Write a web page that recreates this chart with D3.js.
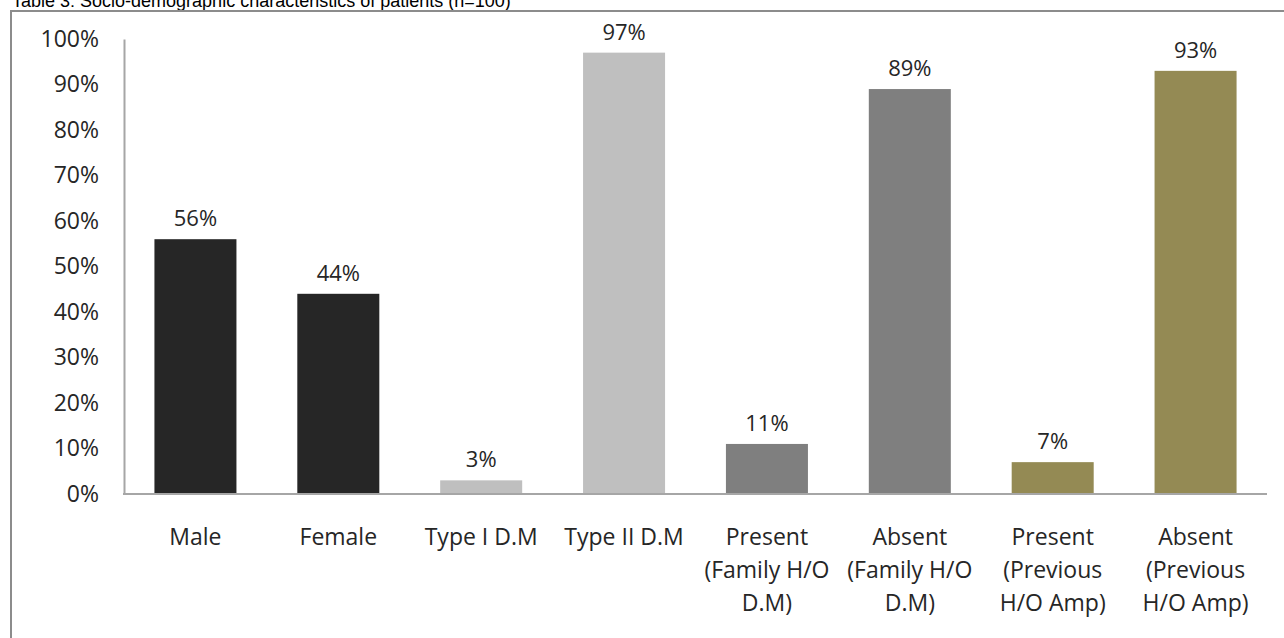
<html>
<head>
<script src="https://d3js.org/d3.v7.min.js"></script>
<style>
  body { margin: 0; background: #fff; }
  text { font-family: "Open Sans", sans-serif; fill: #262626; }
  .title { font-family: "Liberation Sans", Arial, sans-serif; font-size: 18px; fill: #000; }
</style>
</head>
<body>
<svg id="chart" width="1284" height="638"></svg>
<script>
  const categories = [
    ["Male"], ["Female"], ["Type I D.M"], ["Type II D.M"],
    ["Present", "(Family H/O", "D.M)"], ["Absent", "(Family H/O", "D.M)"],
    ["Present", "(Previous", "H/O Amp)"], ["Absent", "(Previous", "H/O Amp)"]
  ];
  const values = [56, 44, 3, 97, 11, 89, 7, 93];
  const colors = ["#262626", "#262626", "#bfbfbf", "#bfbfbf", "#7f7f7f", "#7f7f7f", "#948a54", "#948a54"];
  const yTicks = [0, 10, 20, 30, 40, 50, 60, 70, 80, 90, 100];

  const svg = d3.select("svg#chart");

  // title, mostly cut off at the top like the source
  svg.append("text").attr("class", "title")
    .attr("x", 12).attr("y", 7)
    .text("Table 3: Socio-demographic characteristics of patients (n=100)");

  // outer frame
  svg.append("rect")
    .attr("x", 11).attr("y", 11).attr("width", 1300).attr("height", 700)
    .attr("fill", "none").attr("stroke", "#8c8c8c").attr("stroke-width", 2);

  const plotLeft = 124, plotRight = 1267, plotTop = 39, plotBottom = 494;

  const x = d3.scaleBand().domain(d3.range(values.length)).range([plotLeft, plotRight]).paddingInner(0.426).paddingOuter(0.213);
  const y = d3.scaleLinear().domain([0, 100]).range([plotBottom, plotTop]);

  // y axis
  const yAxis = svg.append("g").attr("transform", `translate(${plotLeft},0)`)
    .call(d3.axisLeft(y).tickValues(yTicks).tickSize(0).tickPadding(25).tickFormat(d => d + "%"));
  yAxis.select(".domain").attr("stroke", "#a6a6a6").attr("stroke-width", 2);
  yAxis.selectAll("text").style("font-size", "23px").style("font-family", "Open Sans").attr("fill", "#262626");

  // bars
  svg.selectAll("rect.bar").data(values).join("rect").attr("class", "bar")
    .attr("x", (d, i) => x(i)).attr("width", x.bandwidth())
    .attr("y", d => y(d)).attr("height", d => y(0) - y(d))
    .attr("fill", (d, i) => colors[i]);

  // x axis line
  svg.append("line").attr("x1", plotLeft - 1).attr("x2", plotRight).attr("y1", plotBottom).attr("y2", plotBottom)
    .attr("stroke", "#a6a6a6").attr("stroke-width", 2);

  // value labels
  svg.selectAll("text.val").data(values).join("text").attr("class", "val")
    .attr("x", (d, i) => x(i) + x.bandwidth() / 2).attr("y", d => y(d) - 13)
    .attr("text-anchor", "middle").style("font-size", "22px")
    .text(d => d + "%");

  // category labels
  const cats = svg.selectAll("text.cat").data(categories).join("text").attr("class", "cat")
    .attr("text-anchor", "middle")
    .style("font-size", "23px")
    .attr("transform", (d, i) => `translate(${x(i) + x.bandwidth() / 2},0)`);
  cats.selectAll("tspan").data(d => d).join("tspan")
    .attr("x", 0)
    .attr("y", (d, j) => 545 + j * 33)
    .text(d => d);
</script>
</body>
</html>
